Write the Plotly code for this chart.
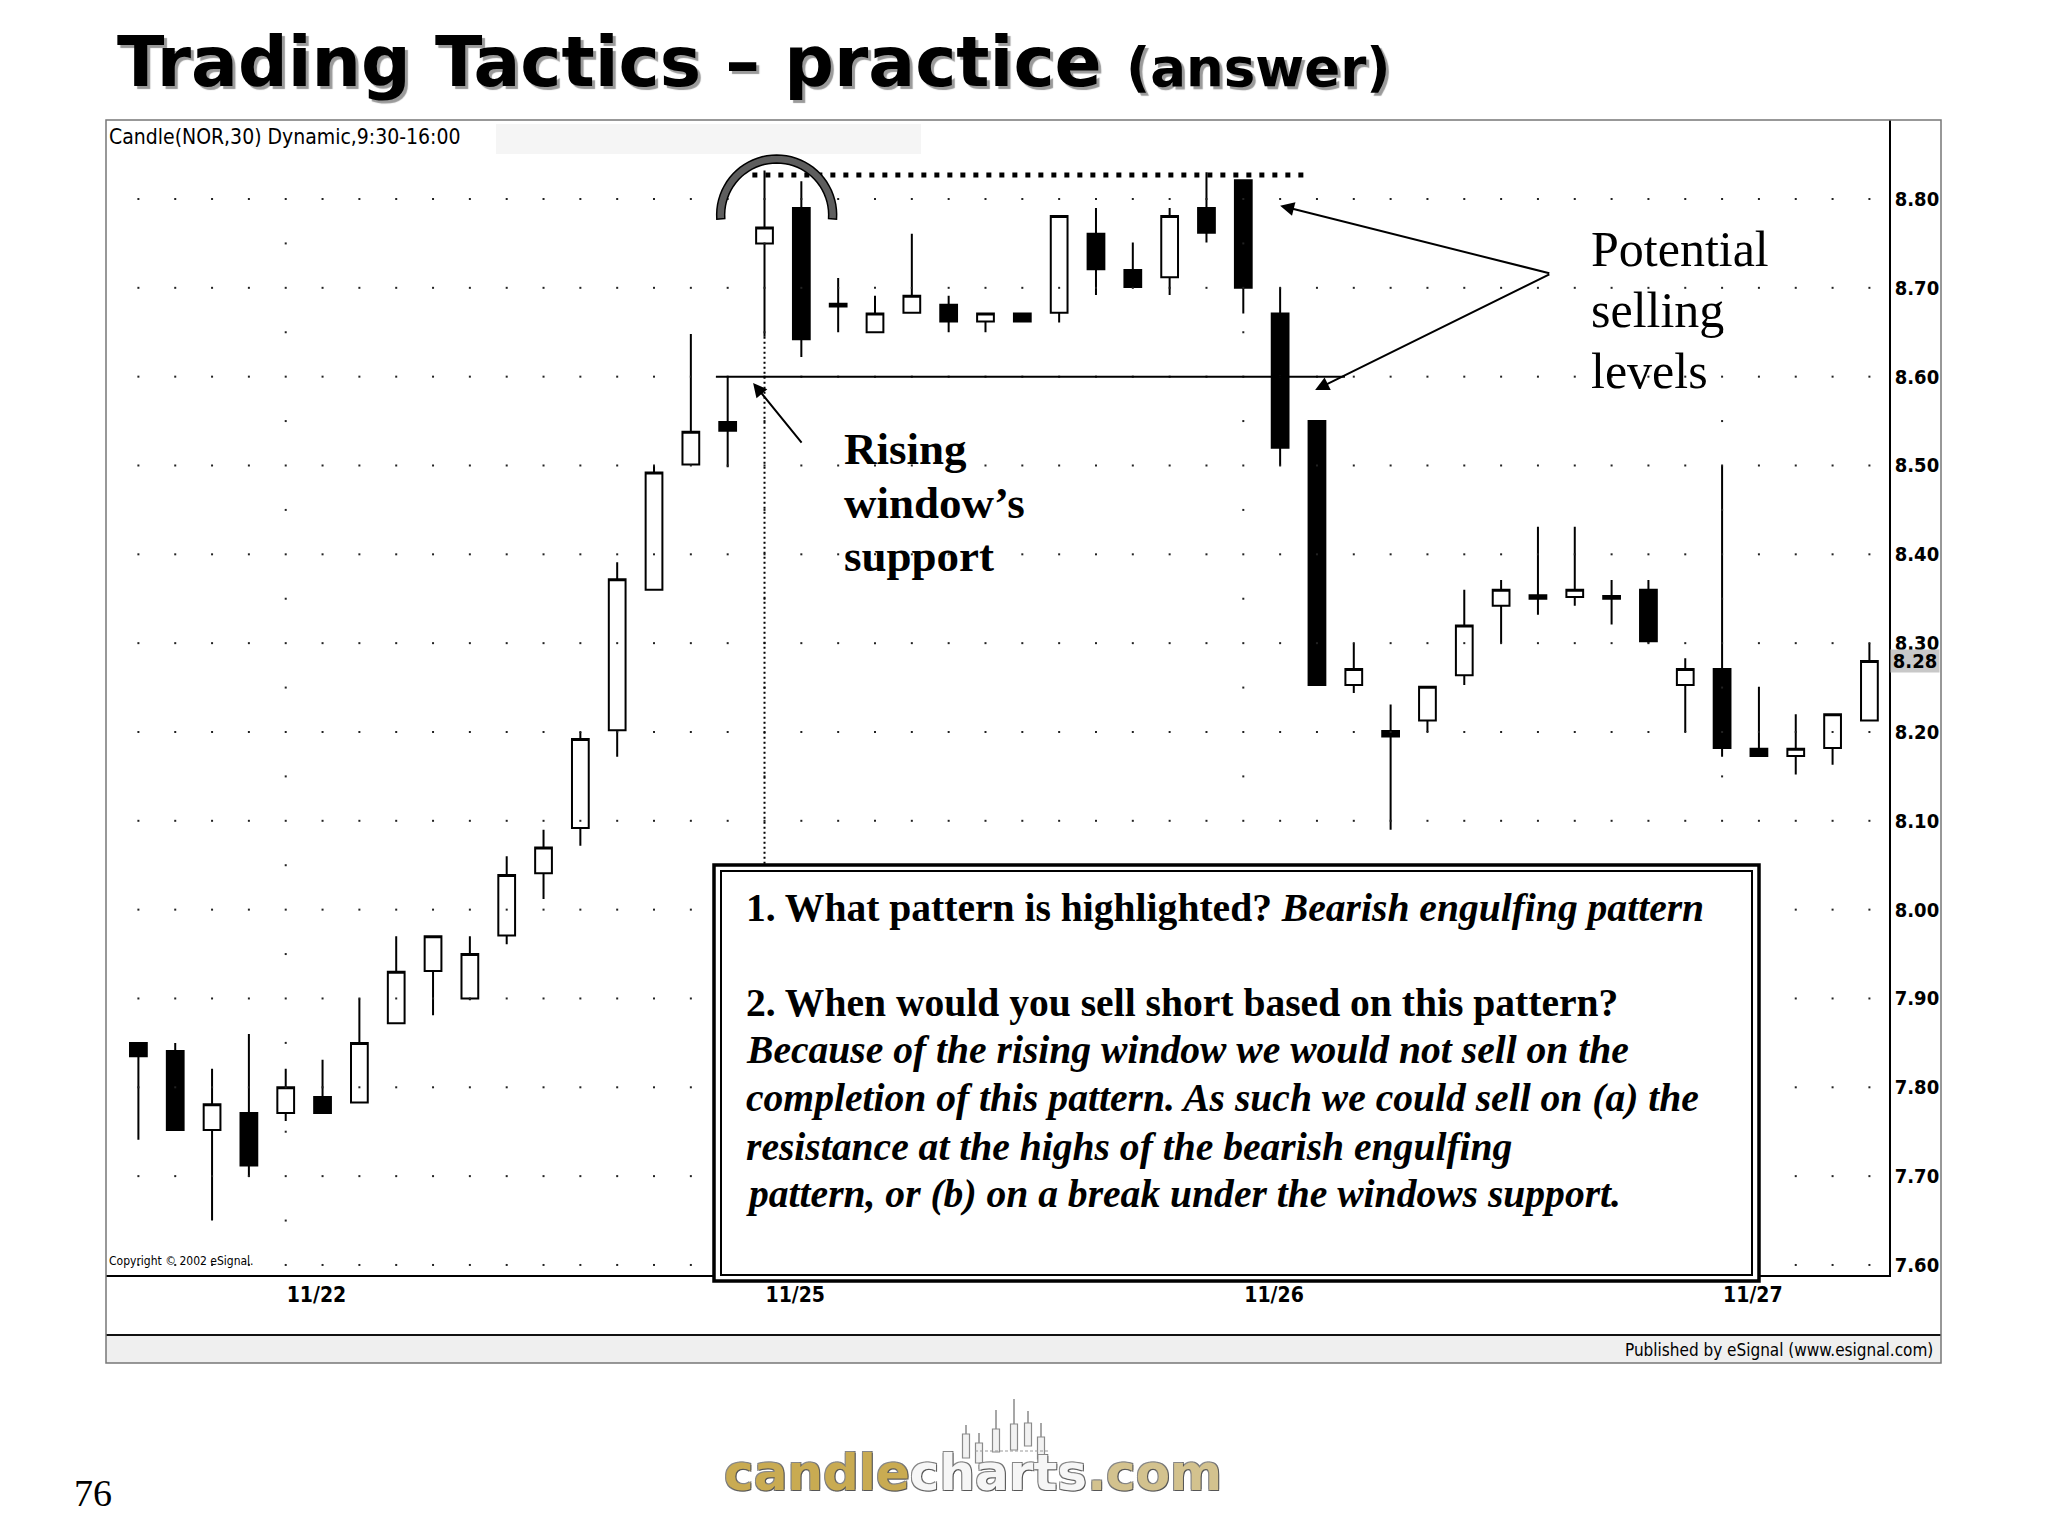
import math
import plotly.graph_objects as go

# ---------------- data (30-minute bars, NOR) ----------------
bar_index = list(range(48))
opens = [7.850, 7.841, 7.752, 7.771, 7.771, 7.789, 7.783, 7.872, 7.931, 7.900,
         7.971, 8.041, 8.092, 8.202, 8.360, 8.501, 8.549, 8.750, 8.790, 8.682,
         8.650, 8.672, 8.681, 8.662, 8.671, 8.672, 8.761, 8.720, 8.712, 8.790,
         8.821, 8.671, 8.550, 8.253, 8.201, 8.213, 8.264, 8.342, 8.354, 8.352,
         8.353, 8.360, 8.253, 8.271, 8.181, 8.173, 8.182, 8.213]
highs = [7.850, 7.850, 7.821, 7.860, 7.821, 7.831, 7.900, 7.970, 7.970, 7.970,
         8.060, 8.090, 8.200, 8.391, 8.500, 8.648, 8.600, 8.832, 8.820, 8.711,
         8.691, 8.761, 8.691, 8.671, 8.671, 8.781, 8.790, 8.751, 8.790, 8.830,
         8.821, 8.700, 8.550, 8.300, 8.231, 8.251, 8.360, 8.371, 8.431, 8.431,
         8.371, 8.371, 8.283, 8.500, 8.251, 8.220, 8.220, 8.300]
lows = [7.741, 7.752, 7.650, 7.699, 7.762, 7.771, 7.783, 7.872, 7.881, 7.898,
        7.961, 8.012, 8.072, 8.172, 8.360, 8.500, 8.498, 8.645, 8.622, 8.650,
        8.650, 8.672, 8.650, 8.650, 8.662, 8.661, 8.692, 8.700, 8.692, 8.751,
        8.671, 8.500, 8.253, 8.244, 8.090, 8.200, 8.253, 8.300, 8.332, 8.342,
        8.321, 8.300, 8.200, 8.172, 8.173, 8.152, 8.163, 8.213]
closes = [7.835, 7.752, 7.781, 7.712, 7.800, 7.771, 7.850, 7.930, 7.970, 7.950,
          8.039, 8.070, 8.192, 8.372, 8.492, 8.538, 8.539, 8.768, 8.642, 8.679,
          8.671, 8.691, 8.662, 8.671, 8.662, 8.781, 8.721, 8.701, 8.781, 8.762,
          8.700, 8.520, 8.253, 8.271, 8.195, 8.251, 8.320, 8.360, 8.350, 8.360,
          8.350, 8.302, 8.271, 8.182, 8.173, 8.181, 8.220, 8.280]

day_start_bars = [4, 17, 30, 43]
day_labels = ["11/22", "11/25", "11/26", "11/27"]
price_ticks = [7.60, 7.70, 7.80, 7.90, 8.00, 8.10, 8.20, 8.30, 8.40, 8.50, 8.60, 8.70, 8.80]
price_tick_text = ["7.60", "7.70", "7.80", "7.90", "8.00", "8.10", "8.20", "8.30",
                   "8.40", "8.50", "8.60", "8.70", "8.80"]

support_level = 8.60        # rising window's support
resistance_level = 8.827    # highs of the bearish engulfing pattern

box_lines = [
    "<b>1. What pattern is highlighted? </b><b><i>Bearish engulfing pattern</i></b>",
    "<b>2. When would you sell short based on this pattern?</b>",
    "<b><i>Because of the rising window we would not sell on the</i></b>",
    "<b><i>completion of this pattern. As such we could sell on (a) the</i></b>",
    "<b><i>resistance at the highs of the bearish engulfing</i></b>",
    "<b><i>pattern, or (b) on a break under the windows support.</i></b>",
]
rising_lines = ["<b>Rising</b>", "<b>window\u2019s</b>", "<b>support</b>"]
selling_lines = ["Potential", "selling", "levels"]

# ---------------- geometry ----------------
W, H = 2048, 1536
L, R, T, B = 106, 1889, 120, 1275          # plot area in pixels
BAR0_PX, BAR_STEP = 138.4, 36.83           # x pixel of bar 0 and bar spacing
P_REF, P_REF_PX, PX_PER_UNIT = 8.80, 199.0, 888.3

x_range = [(L - BAR0_PX) / BAR_STEP, (R - BAR0_PX) / BAR_STEP]
y_range = [P_REF - (B - P_REF_PX) / PX_PER_UNIT, P_REF + (P_REF_PX - T) / PX_PER_UNIT]


def pxx(x):
    return (x - L) / (R - L)


def pxy(y):
    return (B - y) / (B - T)


def py_to_price(y):
    return P_REF - (y - P_REF_PX) / PX_PER_UNIT


NARROW = "Liberation Sans Narrow, DejaVu Sans Condensed, Arial Narrow, sans-serif"
SERIF = "Liberation Serif, Times New Roman, serif"

fig = go.Figure()

# dotted grid: a dot at every bar on every price level, half levels on day separators
gx, gy = [], []
for b in bar_index:
    for p in price_ticks:
        gx.append(b)
        gy.append(p)
half_levels = [(a + c) / 2 for a, c in zip(price_ticks[:-1], price_ticks[1:])]
for b in day_start_bars:
    for p in half_levels:
        gx.append(b)
        gy.append(p)
fig.add_trace(go.Scatter(x=gx, y=gy, mode="markers",
                         marker=dict(symbol="square", size=2, color="#222"),
                         hoverinfo="skip", showlegend=False))

fig.add_trace(go.Candlestick(
    x=bar_index, open=opens, high=highs, low=lows, close=closes,
    increasing=dict(fillcolor="white", line=dict(color="black", width=2)),
    decreasing=dict(fillcolor="black", line=dict(color="black", width=2)),
    whiskerwidth=0, showlegend=False, hoverinfo="skip"))

shapes = []
# light header strip
shapes.append(dict(type="rect", xref="paper", yref="paper", x0=pxx(496), x1=pxx(921),
                   y0=pxy(154), y1=pxy(124), fillcolor="#f5f5f5", line=dict(width=0), layer="below"))
# footer bar
shapes.append(dict(type="rect", xref="paper", yref="paper", x0=pxx(106), x1=pxx(1941),
                   y0=pxy(1363), y1=pxy(1335), fillcolor="#efefef", line=dict(width=0), layer="above"))
shapes.append(dict(type="line", xref="paper", yref="paper", x0=pxx(106), x1=pxx(1941),
                   y0=pxy(1335), y1=pxy(1335), line=dict(color="#111", width=2), layer="above"))
# outer frame
shapes.append(dict(type="rect", xref="paper", yref="paper", x0=pxx(106), x1=pxx(1941),
                   y0=pxy(1363), y1=pxy(120), line=dict(color="#777", width=1.5), layer="above"))

# support line (rising window)
shapes.append(dict(type="line", xref="x", yref="y", x0=15.68, x1=32.76,
                   y0=support_level, y1=support_level, line=dict(color="black", width=2), layer="above"))
# resistance dotted line
shapes.append(dict(type="line", xref="x", yref="y", x0=16.67, x1=31.7,
                   y0=resistance_level, y1=resistance_level,
                   line=dict(color="black", width=5, dash="5px,8px"), layer="above"))
# vertical dotted marker at start of 11/25
shapes.append(dict(type="line", xref="x", yref="y", x0=day_start_bars[1], x1=day_start_bars[1],
                   y0=lows[day_start_bars[1]], y1=py_to_price(865),
                   line=dict(color="black", width=2, dash="2px,3px"), layer="above"))

# highlight arc over the bearish engulfing area
cx, cy = 17.33, 8.782
r_out, r_in = 60.0, 52.0
pts = []
n = 40
a0, a1 = -4.0, 184.0
for i in range(n + 1):
    a = math.radians(a0 + (a1 - a0) * i / n)
    pts.append((cx + r_out * math.cos(a) / BAR_STEP, cy + r_out * math.sin(a) / PX_PER_UNIT))
for i in range(n + 1):
    a = math.radians(a1 - (a1 - a0) * i / n)
    pts.append((cx + r_in * math.cos(a) / BAR_STEP, cy + r_in * math.sin(a) / PX_PER_UNIT))
path = "M " + " L ".join(f"{x:.4f},{y:.5f}" for x, y in pts) + " Z"
shapes.append(dict(type="path", xref="x", yref="y", path=path, fillcolor="#5e5e5e",
                   line=dict(color="black", width=1.5), layer="above"))

# question box (double border)
shapes.append(dict(type="rect", xref="paper", yref="paper", x0=pxx(714), x1=pxx(1759),
                   y0=pxy(1281), y1=pxy(865), fillcolor="white",
                   line=dict(color="black", width=3.5), layer="above"))
shapes.append(dict(type="rect", xref="paper", yref="paper", x0=pxx(721), x1=pxx(1752),
                   y0=pxy(1275), y1=pxy(871), line=dict(color="black", width=2), layer="above"))

# logo candles
logo_candles = [(966, 1425, 1434, 1458), (979, 1433, 1443, 1463), (996, 1410, 1429, 1452),
                (1014, 1399, 1424, 1450), (1028, 1411, 1423, 1446), (1041, 1423, 1437, 1459)]
for lx, wt, bt, bb in logo_candles:
    shapes.append(dict(type="line", xref="paper", yref="paper", x0=pxx(lx), x1=pxx(lx),
                       y0=pxy(bt), y1=pxy(wt), line=dict(color="#8a8a8a", width=1.5), layer="below"))
    shapes.append(dict(type="rect", xref="paper", yref="paper", x0=pxx(lx - 3.5), x1=pxx(lx + 3.5),
                       y0=pxy(bb), y1=pxy(bt), fillcolor="#f2f2f2",
                       line=dict(color="#8a8a8a", width=1.2), layer="below"))
shapes.append(dict(type="line", xref="paper", yref="paper", x0=pxx(975), x1=pxx(1048),
                   y0=pxy(1451), y1=pxy(1451), line=dict(color="#999", width=1, dash="3px,2px"),
                   layer="below"))

ann = []


def text_ann(text, x, y, size, family, anchor="left", color="black", **kw):
    d = dict(text=text, xref="paper", yref="paper", x=pxx(x), y=pxy(y), xanchor=anchor,
             yanchor="middle", showarrow=False, font=dict(size=size, family=family, color=color),
             align="left")
    d["font"].update(kw.pop("font_extra", {}))
    d.update(kw)
    return d


# title
ann.append(text_ann("Trading Tactics \u2013 practice", 115, 86 - 0.346 * 69.5, 69.5, "DejaVu Sans",
                    font_extra=dict(weight="bold", shadow="3px 3px 1px #9a9a9a")))
ann.append(text_ann("(answer)", 1124, 86 - 0.346 * 53, 53, "DejaVu Sans",
                    font_extra=dict(weight="bold", shadow="3px 3px 1px #9a9a9a")))
# chart header / footer texts
ann.append(text_ann("Candle(NOR,30) Dynamic,9:30-16:00", 107, 137, 21, NARROW))
ann.append(text_ann("Copyright \u00a9 2002 eSignal.", 107, 1261, 12, NARROW))
ann.append(text_ann("Published by eSignal (www.esignal.com)", 1935, 1350, 17, NARROW, anchor="right"))
ann.append(text_ann("76", 72, 1493, 38, SERIF))
ann.append(text_ann('<span style="color:#c9ab52">candle</span><span style="color:#f6f6f6">charts</span>'
                    '<span style="color:#d3c28e">.com</span>', 973, 1473, 50, "DejaVu Sans", anchor="center",
                    font_extra=dict(weight="bold",
                                    shadow="1px 1px 0 #555, -1px -1px 0 #888, 1px -1px 0 #777, -1px 1px 0 #777")))

# rising window text
for line, base in zip(rising_lines, [464, 518, 571]):
    ann.append(text_ann(line, 842, base - 0.3375 * 45, 45, SERIF))
# potential selling text
for line, base in zip(selling_lines, [266, 327, 388]):
    ann.append(text_ann(line, 1589, base - 0.3375 * 50, 50, SERIF))
# question box text
for line, base in zip(box_lines, [921, 1016, 1063, 1111, 1160, 1207]):
    ann.append(text_ann(line, 744, base - 0.3375 * 39.6, 39.6, SERIF))

# arrows
arrow_style = dict(xref="x", yref="y", axref="x", ayref="y", text="", showarrow=True,
                   arrowhead=2, arrowsize=1.4, arrowwidth=2, arrowcolor="black", standoff=0)
ann.append(dict(x=16.69, y=8.593, ax=18.04, ay=8.524, **arrow_style))
ann.append(dict(x=31.0, y=8.7925, ax=38.35, ay=8.716, **arrow_style))
ann.append(dict(x=31.95, y=8.585, ax=38.35, ay=8.716, **arrow_style))

# last price marker
ann.append(dict(text=f"{closes[-1]:.2f}", xref="paper", yref="y", x=pxx(1890), y=closes[-1],
                xanchor="left", yanchor="middle", showarrow=False, bgcolor="#c8c8c8",
                width=46, height=20, align="center",
                font=dict(size=20, family=NARROW, color="black", weight="bold")))

fig.update_layout(
    width=W, height=H,
    margin=dict(l=L, r=W - R, t=T, b=H - B, pad=0),
    paper_bgcolor="white", plot_bgcolor="white",
    showlegend=False, boxgap=0.35,
    shapes=shapes, annotations=ann,
    xaxis=dict(range=x_range, tickvals=day_start_bars, ticktext=day_labels,
               ticklabelposition="outside right", ticks="", showgrid=False, zeroline=False,
               showline=True, linecolor="black", linewidth=2, rangeslider=dict(visible=False),
               tickfont=dict(size=21, family=NARROW, color="black", weight="bold")),
    yaxis=dict(range=y_range, side="right", tickvals=price_ticks, ticktext=price_tick_text,
               ticks="", showgrid=False, zeroline=False, showline=True, linecolor="black",
               linewidth=1.5, tickfont=dict(size=20, family=NARROW, color="black", weight="bold")),
)

fig.write_html("out.html", config=dict(displayModeBar=False),
               post_script="document.body.style.margin='0';document.body.style.overflow='hidden';")
